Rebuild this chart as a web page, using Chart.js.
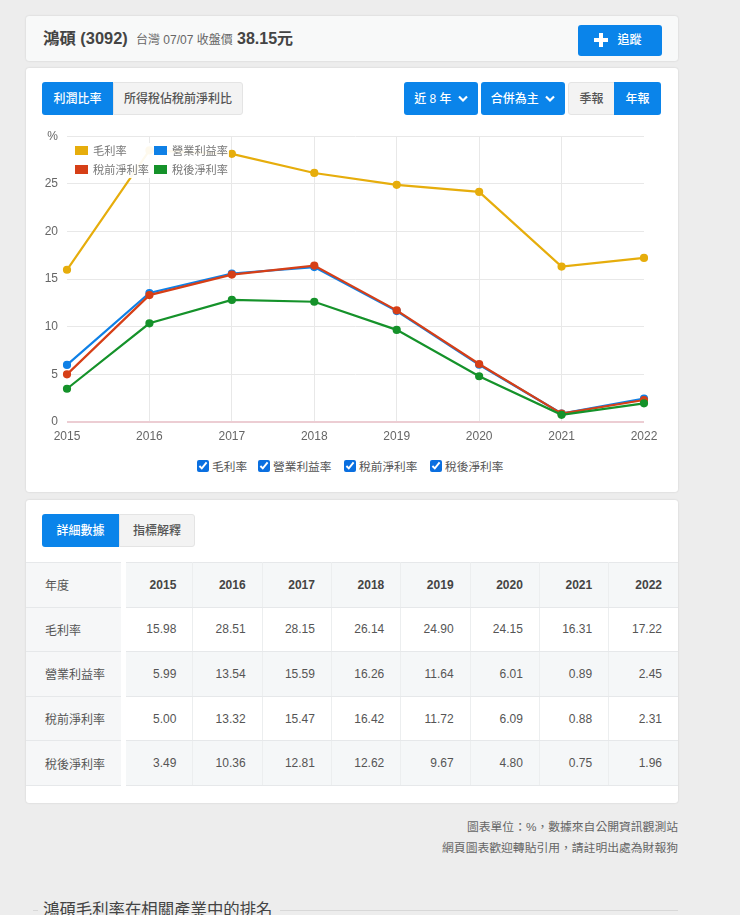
<!DOCTYPE html>
<html lang="zh-Hant">
<head>
<meta charset="utf-8">
<title>鴻碩 (3092)</title>
<script src="https://cdn.jsdelivr.net/npm/chart.js@4/dist/chart.umd.min.js"></script>
<style>
html, body { margin: 0; padding: 0; }
body { width: 740px; height: 915px; overflow: hidden; position: relative; background: #ededed; color: #555;
  font-family: "Liberation Sans", "Noto Sans CJK TC", sans-serif; font-size: 12px; }
.card { position: absolute; left: 26px; width: 652px; background: #fff; border-radius: 3px; box-shadow: 0 0 2px rgba(0,0,0,.15); }
.abs { position: absolute; white-space: nowrap; }
.btn { position: absolute; height: 33px; line-height: 35px; text-align: center; font-weight: 500; font-size: 12px; box-sizing: border-box; }
.on { background: #0a84ea; color: #fff; border-radius: 3px; }
.off { background: #f3f3f3; color: #555; border: 1px solid #e4e4e4; border-radius: 3px; line-height: 33px; }
.btn svg { vertical-align: 0; margin-left: 3px; }
#chartWrap { position: absolute; left: 26px; top: 120px; width: 652px; height: 335px; }
#legendBox { position: absolute; left: 71px; top: 143px; width: 158px; height: 35px; background: rgba(255,255,255,.93); }
.lg { position: absolute; font-size: 11.2px; color: #777; line-height: 13px; white-space: nowrap; }
.lg i { display: inline-block; width: 13px; height: 9px; margin-right: 5px; vertical-align: 0; }
#checks { position: absolute; top: 460px; left: 0; }
#checks label { position: absolute; white-space: nowrap; font-size: 11.7px; color: #555; line-height: 14px; }
#checks input { width: 12px; height: 12px; margin: 0 3px 0 0; vertical-align: -1px; accent-color: #0a6fe0; }
table { position: absolute; left: 26px; top: 562px; width: 652px; border-collapse: collapse; table-layout: fixed; font-size: 12px; }
th, td { height: 44.6px; padding: 0 16px 0 0; text-align: right; box-sizing: border-box; border-top: 1px solid #e6e8ea; border-bottom: 1px solid #e6e8ea; border-right: 1px solid #eceeef; color: #555; white-space: nowrap; }
th { background: #f5f7f8; color: #444; font-weight: bold; }
td.gray { background: #f5f7f8; }
th.name, td.name { text-align: left; padding-left: 19px; font-weight: normal; color: #555; background: #f6f7f8; border-right: 5px solid #fff; }
th:last-child, td:last-child { border-right: none; }
</style>
</head>
<body>

<div class="card" style="top:16px;height:45px;background:#f8f9f9"></div>
<div class="abs" style="left:43px;top:25px;font-size:16.4px;font-weight:bold;color:#444">鴻碩 (3092)</div>
<div class="abs" style="left:136px;top:30px;font-size:12px;color:#666">台灣 07/07 收盤價</div>
<div class="abs" style="left:237px;top:25px;font-size:16px;font-weight:bold;color:#444">38.15元</div>
<div class="btn on" style="left:578px;top:25px;width:84px;height:31px;line-height:31px;padding-right:4px">
  <svg width="14" height="14" viewBox="0 0 14 14" style="vertical-align:-3px;margin:0 9px 0 0"><path d="M5 0h4v5h5v4H9v5H5V9H0V5h5z" fill="#fff"/></svg>追蹤</div>

<div class="card" style="top:68px;height:424px"></div>
<div class="btn on" style="left:42px;top:82px;width:71px;border-radius:3px 0 0 3px">利潤比率</div>
<div class="btn off" style="left:113px;top:82px;width:130px;border-radius:0 3px 3px 0">所得稅佔稅前淨利比</div>
<div class="btn on" style="left:404px;top:82px;width:74px">近 8 年 <svg width="10" height="8" viewBox="0 0 10 8"><path d="M1 1.5l4 4 4-4" fill="none" stroke="#fff" stroke-width="2.2"/></svg></div>
<div class="btn on" style="left:481px;top:82px;width:84px">合併為主 <svg width="10" height="8" viewBox="0 0 10 8"><path d="M1 1.5l4 4 4-4" fill="none" stroke="#fff" stroke-width="2.2"/></svg></div>
<div class="btn off" style="left:568px;top:82px;width:47px;border-radius:3px 0 0 3px">季報</div>
<div class="btn on" style="left:614px;top:82px;width:47px;border-radius:0 3px 3px 0">年報</div>

<div id="chartWrap"><canvas id="marginChart" width="652" height="335"></canvas></div>
<div id="legendBox"></div>
<div id="legend"></div>
<div id="checks"></div>

<div class="card" style="top:500px;height:303px"></div>
<div class="btn on" style="left:42px;top:514px;width:77px;border-radius:3px 0 0 3px">詳細數據</div>
<div class="btn off" style="left:119px;top:514px;width:76px;border-radius:0 3px 3px 0">指標解釋</div>
<table id="detail"></table>

<div class="abs" style="right:62px;top:817px;font-size:11.8px;color:#666">圖表單位：%，數據來自公開資訊觀測站</div>
<div class="abs" style="right:62px;top:838px;font-size:11.8px;color:#666">網頁圖表歡迎轉貼引用，請註明出處為財報狗</div>

<div class="abs" style="left:33px;top:910px;width:645px;height:1px;background:#d8d8d8"></div>
<div class="abs" style="left:38px;top:896px;padding:0 8px 0 5px;background:#ededed;font-size:16.4px;color:#444">鴻碩毛利率在相關產業中的排名</div>

<script>
const years = ['2015', '2016', '2017', '2018', '2019', '2020', '2021', '2022'];
const seriesNames = ['毛利率', '營業利益率', '稅前淨利率', '稅後淨利率'];
const seriesColors = ['#e6ad0c', '#0f80e6', '#d63f17', '#15922a'];

const grossMargin = [15.98, 28.51, 28.15, 26.14, 24.90, 24.15, 16.31, 17.22];
const operatingMargin = [5.99, 13.54, 15.59, 16.26, 11.64, 6.01, 0.89, 2.45];
const pretaxMargin = [5.00, 13.32, 15.47, 16.42, 11.72, 6.09, 0.88, 2.31];
const netMargin = [3.49, 10.36, 12.81, 12.62, 9.67, 4.80, 0.75, 1.96];
const allSeries = [grossMargin, operatingMargin, pretaxMargin, netMargin];

const chart = new Chart(document.getElementById('marginChart'), {
  type: 'line',
  data: {
    labels: years,
    datasets: seriesNames.map((name, i) => ({
      label: name,
      data: allSeries[i],
      borderColor: seriesColors[i],
      backgroundColor: seriesColors[i],
      borderWidth: 2.2,
      pointRadius: 3,
      pointHoverRadius: 4,
      tension: 0,
      fill: false,
      order: 4 - i
    }))
  },
  options: {
    responsive: false,
    animation: false,
    layout: { autoPadding: false, padding: { top: 10.5, right: 34 } },
    plugins: { legend: { display: false }, tooltip: { enabled: false } },
    scales: {
      x: {
        offset: false,
        afterFit: s => { s.height = 33; },
        // no vertical line at the two ends of the plot
        grid: {
          color: c => (c.index === 0 || c.index === years.length - 1) ? 'transparent' : '#e8e8e8',
          drawTicks: false
        },
        border: { display: false },
        ticks: { color: '#666', font: { size: 12, family: '"Liberation Sans"' }, padding: 7, maxRotation: 0 }
      },
      y: {
        min: 0,
        max: 30,
        afterFit: s => { s.width = 41; },
        grid: {
          color: c => c.tick.value === 0 ? '#eccdd3' : '#e8e8e8',
          lineWidth: c => c.tick.value === 0 ? 2 : 1,
          drawTicks: false
        },
        border: { display: false },
        ticks: {
          stepSize: 5,
          color: '#666',
          padding: 9,
          font: { size: 12, family: '"Liberation Sans"' },
          callback: v => v === 30 ? '%' : v
        }
      }
    }
  }
});

// legend on top of the plot, same spot as the original
const legendSpots = [[75, 145], [154, 145], [75, 164], [154, 164]];
document.getElementById('legend').innerHTML = seriesNames.map((name, i) =>
  `<div class="lg" style="left:${legendSpots[i][0]}px;top:${legendSpots[i][1]}px"><i style="background:${seriesColors[i]}"></i>${name}</div>`
).join('');

const checkLefts = [197, 258, 344, 430];
const checks = document.getElementById('checks');
checks.innerHTML = seriesNames.map((name, i) =>
  `<label style="left:${checkLefts[i]}px"><input type="checkbox" checked data-i="${i}">${name}</label>`
).join('');
checks.addEventListener('change', e => {
  chart.setDatasetVisibility(+e.target.dataset.i, e.target.checked);
  chart.update();
});

// detail table
const header = `<colgroup><col style="width:97.5px">${years.map(() => '<col>').join('')}</colgroup>
  <tr><th class="name">年度</th>${years.map(y => `<th>${y}</th>`).join('')}</tr>`;
const rows = seriesNames.map((name, i) =>
  `<tr><td class="name">${name}</td>${allSeries[i].map(v => `<td class="${i % 2 ? 'gray' : ''}">${v.toFixed(2)}</td>`).join('')}</tr>`
).join('');
document.getElementById('detail').innerHTML = header + rows;
</script>
</body>
</html>
